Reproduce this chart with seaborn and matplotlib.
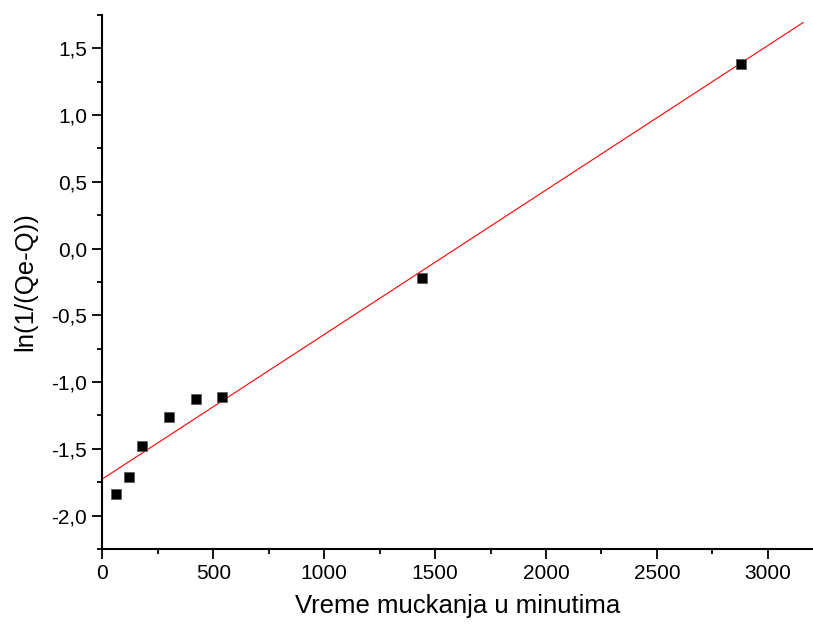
import numpy as np
import pandas as pd
import matplotlib
matplotlib.use("Agg")
import matplotlib.pyplot as plt
import seaborn as sns
from matplotlib.ticker import MultipleLocator, FuncFormatter

time_min = [60, 120, 180, 300, 420, 540, 1440, 2880]
ln_vals = [-1.841, -1.713, -1.478, -1.260, -1.130, -1.115, -0.223, 1.383]
x_ticks = [0, 500, 1000, 1500, 2000, 2500, 3000]
y_ticks = [-2.0, -1.5, -1.0, -0.5, 0.0, 0.5, 1.0, 1.5]

df = pd.DataFrame({"t": time_min, "v": ln_vals})

sns.set_theme(style="ticks")
plt.rcParams['font.family'] = ['Liberation Sans', 'DejaVu Sans']

fig = plt.figure(figsize=(8.13, 6.27), dpi=100)
ax = fig.add_axes([0.126, 0.1244, 0.873, 0.852])

# fit line spanning 0..3160
ax.set_xlim(0, 3160)
sns.regplot(data=df, x="t", y="v", ax=ax, scatter=False, ci=None, truncate=False,
            line_kws=dict(color="#ff0000", lw=0.8))
sns.scatterplot(data=df, x="t", y="v", ax=ax, marker="s", s=55, color="black",
                edgecolor="#555555", linewidth=0.5, zorder=3)

ax.set_xlim(0, 3200)
ax.set_ylim(-2.25, 1.75)
ax.set_xticks(x_ticks)
ax.set_yticks(y_ticks)
ax.xaxis.set_minor_locator(MultipleLocator(250))
ax.yaxis.set_minor_locator(MultipleLocator(0.25))
ax.yaxis.set_major_formatter(FuncFormatter(lambda v, p: f"{v:.1f}".replace(".", ",")))
ax.xaxis.set_major_formatter(FuncFormatter(lambda v, p: f"{int(v)}"))

for s in ["top", "right"]:
    ax.spines[s].set_visible(False)
for s in ["left", "bottom"]:
    ax.spines[s].set_linewidth(1.5)
    ax.spines[s].set_color("black")

ax.tick_params(which="major", direction="out", length=7, width=1.3, labelsize=15,
               colors="black", labelcolor="black", pad=4)
ax.tick_params(which="minor", direction="out", length=3.5, width=1.3, colors="black")

ax.set_xlabel("Vreme muckanja u minutima", fontsize=18.5, labelpad=8, color="black")
ax.set_ylabel("ln(1/(Qe-Q))", fontsize=18.5, labelpad=10, color="black")

fig.savefig("out.png", dpi=100)
